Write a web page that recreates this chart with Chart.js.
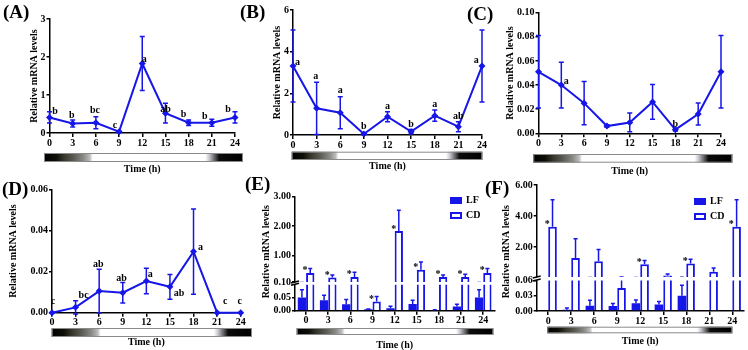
<!DOCTYPE html>
<html>
<head>
<meta charset="utf-8">
<script src="https://cdn.jsdelivr.net/npm/chart.js@4.4.1/dist/chart.umd.min.js"></script>
<style>
body{margin:0;background:#fff;width:748px;height:350px;overflow:hidden;position:relative}
canvas{position:absolute}
.tag{position:absolute;font:bold 19px 'Liberation Serif',serif;line-height:19px;color:#000}
</style>
</head>
<body>
<canvas id="cA"></canvas><canvas id="cB"></canvas><canvas id="cC"></canvas><canvas id="cD"></canvas>
<canvas id="cEhi"></canvas><canvas id="cElo"></canvas><canvas id="cFhi"></canvas><canvas id="cFlo"></canvas>
<div class="tag" style="left:3px;top:2px">(A)</div>
<div class="tag" style="left:240px;top:2px">(B)</div>
<div class="tag" style="left:467px;top:4px">(C)</div>
<div class="tag" style="left:2px;top:179px">(D)</div>
<div class="tag" style="left:245px;top:174px">(E)</div>
<div class="tag" style="left:485px;top:178px">(F)</div>
<script>
// sampling times (h)
const hours = [0,3,6,9,12,15,18,21,24];
const hourLabels = ['0','3','6','9','12','15','18','21','24'];

// (A)
const aMean = [0.41,0.25,0.27,0.035,1.83,0.52,0.27,0.27,0.41];
const aErr  = [0.15,0.09,0.16,0.02,0.71,0.26,0.07,0.09,0.15];
const aSig  = ['b','b','bc','c','a','ab','b','b','b'];
const aTicks = ['0','1','2','3'];
// (B)
const bMean = [3.31,1.28,1.07,0.045,0.88,0.16,0.93,0.4,3.31];
const bErr  = [1.73,1.25,0.77,0.022,0.24,0.1,0.27,0.24,1.73];
const bSig  = ['a','a','a','b','a','b','a','ab','a'];
const bTicks = ['0','2','4','6'];
// (C)
const cMean = [0.051,0.040,0.025,0.006,0.009,0.026,0.003,0.016,0.051];
const cErr  = [0.030,0.019,0.018,0.001,0.0078,0.0144,0.001,0.0092,0.030];
const cSig  = ['','a','','','','','b','',''];
const cTicks = ['0.00','0.02','0.04','0.06','0.08','0.10'];
// (D)
const dMean = [0,0.0026,0.0105,0.0097,0.0154,0.0126,0.0297,0,0];
const dErr  = [0,0.0032,0.0106,0.005,0.0062,0.006,0.0207,0,0];
const dSig  = ['c','bc','ab','ab','a','ab','a','c','c'];
const dTicks = ['0.00','0.02','0.04','0.06'];
// (E) LF = gene of (C), CD = gene of (A)
const eLF = cMean, eLFErr = cErr, eCD = aMean, eCDErr = aErr;
const eStar = [1,1,1,1,1,1,1,1,1];
const eTicksLo = ['0.00','0.05'];
const eTicksHi = ['0.10','1.00','2.00','3.00'];
// (F) LF = gene of (D), CD = gene of (B)
const fLF = dMean, fLFErr = dErr, fCD = bMean, fCDErr = bErr;
const fStar = [1,0,0,0,1,0,1,0,1];
const fTicksLo = ['0.00','0.03','0.06'];
const fTicksHi = ['2.00','4.00','6.00'];

const BLUE = 'rgb(22,22,232)';
const FAM = "'Liberation Serif','Times New Roman',serif";
const FONT = {family: FAM, size: 10, weight: 'bold'};
Chart.defaults.font.family = FAM;
Chart.defaults.color = '#000';

const decor = {
  id: 'decor',
  afterDatasetsDraw(chart, args, o){
    const ctx = chart.ctx, a = chart.chartArea, ys = chart.scales.y;
    const val = d => (d !== null && typeof d === 'object') ? d.y : d;
    ctx.save();
    if(o.clip){ ctx.beginPath(); ctx.rect(a.left, a.top, a.right-a.left, a.bottom-a.top); ctx.clip(); }
    ctx.strokeStyle = BLUE; ctx.lineWidth = 1.5;
    (o.err||[]).forEach((errs, i) => {
      const data = chart.data.datasets[i].data;
      chart.getDatasetMeta(i).data.forEach((el, j) => {
        const v = val(data[j]), e = errs[j];
        if(!e) return;
        const hi = ys.getPixelForValue(v+e);
        const lo = ys.getPixelForValue(o.upOnly ? v : v-e);
        ctx.beginPath();
        ctx.moveTo(el.x, lo); ctx.lineTo(el.x, hi);
        ctx.moveTo(el.x-o.cap, hi); ctx.lineTo(el.x+o.cap, hi);
        if(!o.upOnly){ ctx.moveTo(el.x-o.cap, lo); ctx.lineTo(el.x+o.cap, lo); }
        ctx.stroke();
      });
    });
    ctx.restore();

    ctx.save();
    ctx.fillStyle = '#000';
    ctx.font = 'bold 10px ' + FAM;
    if(o.stars){
      ctx.textAlign = 'center'; ctx.textBaseline = 'alphabetic';
      const data = chart.data.datasets[1].data;
      chart.getDatasetMeta(1).data.forEach((el, j) => {
        if(o.stars[j] && data[j] >= ys.min && data[j] <= ys.max)
          ctx.fillText('*', el.x - el.width/2 - 1, el.y + 0.5);
      });
    }
    ctx.textAlign = 'center'; ctx.textBaseline = 'middle';
    if(o.sig){
      chart.getDatasetMeta(0).data.forEach((el, j) => {
        const t = o.sig.text[j];
        if(t) ctx.fillText(t, el.x + o.sig.off[j][0], el.y + o.sig.off[j][1]);
      });
    }
    if(o.band){
      const [x0o, x1o, y0o, y1o] = o.band;
      const x0 = a.left + x0o, x1 = a.right + x1o;
      const g = ctx.createLinearGradient(x0, 0, x1, 0);
      [[0,'#000'],[0.06,'#0e0e08'],[0.1,'#36362c'],[0.15,'#5c5c55'],[0.2,'#8c8c88'],[0.23,'#bcbcbc'],
       [0.245,'#fff'],[0.81,'#fff'],[0.83,'#c8c8d2'],[0.855,'#6c6c6c'],[0.88,'#0c0c0c'],[1,'#000']]
        .forEach(s => g.addColorStop(s[0], s[1]));
      ctx.fillStyle = g;
      ctx.fillRect(x0, a.bottom + y0o, x1 - x0, y1o - y0o);
      ctx.strokeStyle = '#8a8a8a'; ctx.lineWidth = 1;
      ctx.strokeRect(x0 + 0.5, a.bottom + y0o + 0.5, x1 - x0 - 1, y1o - y0o - 1);
      ctx.fillStyle = '#000';
    }
    if(o.brk){
      ctx.strokeStyle = '#000'; ctx.lineWidth = 1.5;
      [a.top - 0.5, a.top - o.brk + 0.5].forEach(yy => {
        ctx.beginPath(); ctx.moveTo(a.left-4, yy+1); ctx.lineTo(a.left+4, yy-1); ctx.stroke();
      });
    }
    if(o.legend){
      chart.data.datasets.forEach((ds, i) => {
        const bx = a.right + o.legend[0], by = a.top + o.legend[1] + i*15;
        ctx.fillStyle = ds.borderColor; ctx.fillRect(bx, by, 12, 7);
        if(ds.backgroundColor === '#fff'){ ctx.fillStyle = '#fff'; ctx.fillRect(bx+2, by+2, 8, 3); }
        ctx.fillStyle = '#000'; ctx.textAlign = 'left';
        ctx.fillText(ds.label, bx + 16, by + 3.5);
      });
    }
    if(o.ytitle){
      ctx.translate(a.left - o.ytitle[1], a.top + o.ytitle[2]);
      ctx.rotate(-Math.PI/2);
      ctx.textAlign = 'center';
      ctx.fillText(o.ytitle[0], 0, 0);
    }
    ctx.restore();
  }
};

function frame(id, r, b){
  const cv = document.getElementById(id);
  const left = Math.round(r.l - b.yw), top = Math.round(r.t - b.pt);
  const w = Math.round(r.r + b.pr - left), h = Math.round(r.b + b.xh + b.pb - top);
  cv.width = w; cv.height = h;
  cv.style.left = left + 'px'; cv.style.top = top + 'px';
  return {cv, yw: r.l - left, pt: r.t - top, pr: w - (r.r - left), xh: h - b.pb - (r.b - top), pb: b.pb};
}

function xAxis(xh, extra){
  return Object.assign({
    ticks: {font: FONT, color: '#000', padding: 0, maxRotation: 0, autoSkip: false},
    grid: {drawOnChartArea: false, tickLength: 4, color: '#000', lineWidth: 1.5, offset: false},
    border: {color: '#000', width: 1.5},
    title: {display: true, text: 'Time (h)', font: FONT, color: '#000', padding: {top: 0, bottom: 4}},
    afterFit: s => { s.height = xh; }
  }, extra);
}

function yAxis(yw, labels, min, max, title){
  return {
    min, max,
    afterBuildTicks: s => { s.ticks = labels.map(t => ({value: parseFloat(t)})); },
    ticks: {font: FONT, color: '#000', padding: 1, callback: (v, i) => labels[i]},
    grid: {drawOnChartArea: false, tickLength: 3, color: '#000', lineWidth: 1.5},
    border: {color: '#000', width: 1.5},
    title: {display: title, text: 'Relative mRNA levels', font: FONT, color: '#000', padding: {top: 4, bottom: 4}},
    afterFit: s => { s.width = yw; }
  };
}

const base = {responsive: false, animation: false, devicePixelRatio: 1, events: []};

function lineChart(id, r, b, mean, err, ticks, yMax, sigText, sigOff, band){
  const f = frame(id, r, b);
  return new Chart(f.cv, {
    type: 'line',
    data: {datasets: [{
      data: hours.map((h, i) => ({x: h, y: mean[i]})),
      borderColor: BLUE, backgroundColor: BLUE, borderWidth: 2,
      pointStyle: 'rectRot', pointRadius: 3.5, pointBorderWidth: 0,
      tension: 0, clip: false
    }]},
    options: Object.assign({}, base, {
      layout: {padding: {left: 0, top: f.pt, right: f.pr, bottom: 0}},
      plugins: {legend: {display: false}, tooltip: {enabled: false},
        decor: {err: [err], cap: 2.5, sig: {text: sigText, off: sigOff}, band}},
      scales: {
        x: xAxis(f.xh, {type: 'linear', min: 0, max: 24,
          afterBuildTicks: s => { s.ticks = hours.map(v => ({value: v})); }}),
        y: yAxis(f.yw, ticks, 0, yMax, true)
      }
    }),
    plugins: [decor]
  });
}

function barDatasets(lf, cd){
  return [
    {label: 'LF', data: lf, backgroundColor: BLUE, borderColor: BLUE, borderWidth: 0,
     barPercentage: 1, categoryPercentage: 0.75, clip: 0},
    {label: 'CD', data: cd, backgroundColor: '#fff', borderColor: BLUE, borderWidth: 2,
     barPercentage: 1, categoryPercentage: 0.75, clip: 0}
  ];
}

function splitBars(p){
  const hi = frame(p.idHi, p.rHi, p.bHi);
  const lo = frame(p.idLo, p.rLo, p.bLo);
  const dec = {err: [p.lfErr, p.cdErr], upOnly: true, cap: 2, clip: true, stars: p.stars};
  new Chart(hi.cv, {
    type: 'bar',
    data: {labels: hourLabels, datasets: barDatasets(p.lf, p.cd)},
    options: Object.assign({}, base, {
      layout: {padding: {left: 0, top: hi.pt, right: hi.pr, bottom: hi.pb}},
      plugins: {legend: {display: false}, tooltip: {enabled: false},
        decor: Object.assign({legend: p.legend, ytitle: ['Relative mRNA levels', p.titleDx, p.titleCy]}, dec)},
      scales: {
        x: {display: false, offset: true},
        y: yAxis(hi.yw, p.ticksHi, p.split, p.max, false)
      }
    }),
    plugins: [decor]
  });
  new Chart(lo.cv, {
    type: 'bar',
    data: {labels: hourLabels, datasets: barDatasets(p.lf, p.cd)},
    options: Object.assign({}, base, {
      layout: {padding: {left: 0, top: lo.pt, right: lo.pr, bottom: 0}},
      plugins: {legend: {display: false}, tooltip: {enabled: false},
        decor: Object.assign({band: p.band, brk: p.rLo.t - p.rHi.b}, dec)},
      scales: {
        x: xAxis(lo.xh, {offset: true}),
        y: yAxis(lo.yw, p.ticksLo, 0, p.split, false)
      }
    }),
    plugins: [decor]
  });
}

lineChart('cA', {l: 49.5, t: 19, r: 235, b: 133}, {yw: 25.5, xh: 46, pt: 10, pr: 12, pb: 0},
  aMean, aErr, aTicks, 3, aSig,
  [[5.5,-6],[-1,-8.5],[-1,-12],[-4,-6],[2,-4.5],[0,-4],[-5,-8],[-7,-6],[-7,-8]],
  [-5.5, 8, 20, 29]);

lineChart('cB', {l: 293, t: 10, r: 482, b: 135}, {yw: 26.3, xh: 40.7, pt: 10, pr: 12, pb: 0},
  bMean, bErr, bTicks, 6, bSig,
  [[4.4,-3.6],[-1,-31.8],[0,-22],[0,-7.3],[0,-10.2],[0,-7.6],[0,-11.6],[0,-10],[-5.7,-5.3]],
  [-1.3, 0.3, 16.7, 25]);

lineChart('cC', {l: 538.5, t: 12.7, r: 721, b: 133.3}, {yw: 38.5, xh: 47.4, pt: 10, pr: 14, pb: 0},
  cMean, cErr, cTicks, 0.1, cSig,
  [[0,0],[5,-4],[0,0],[0,0],[0,0],[0,0],[0,-5],[0,0],[0,0]],
  [-5.2, 11.3, 20.7, 29.4]);

lineChart('cD', {l: 52, t: 189.3, r: 240.7, b: 312.7}, {yw: 48.7, xh: 39, pt: 10, pr: 14, pb: 0},
  dMean, dErr, dTicks, 0.06, dSig,
  [[1,-11.7],[8,-11.6],[-1,-27],[-1.3,-14],[4,-6.5],[9,7],[7,-4],[8,-11],[-1,-11]],
  [-0.3, 11.3, 15.3, 24.3]);

splitBars({
  idHi: 'cEhi', idLo: 'cElo',
  rHi: {l: 295, t: 196.7, r: 494.3, b: 281.5}, bHi: {yw: 38.3, xh: 0, pt: 10, pr: 8, pb: 34},
  rLo: {l: 295, t: 284.7, r: 494.3, b: 310.7}, bLo: {yw: 38.3, xh: 44.3, pt: 10, pr: 8, pb: 0},
  lf: eLF, lfErr: eLFErr, cd: eCD, cdErr: eCDErr, stars: eStar,
  ticksHi: eTicksHi, ticksLo: eTicksLo, split: 0.1, max: 3,
  legend: [-44.3, 0.3], titleDx: 28.3, titleCy: 55, band: [1.7, -1, 17.3, 24.3]
});

splitBars({
  idHi: 'cFhi', idLo: 'cFlo',
  rHi: {l: 536.7, t: 185, r: 743.8, b: 276.6}, bHi: {yw: 40, xh: 0, pt: 10, pr: 4, pb: 35},
  rLo: {l: 536.7, t: 280.4, r: 743.8, b: 311}, bLo: {yw: 40, xh: 39.7, pt: 10, pr: 4, pb: 0},
  lf: fLF, lfErr: fLFErr, cd: fCD, cdErr: fCDErr, stars: fStar,
  ticksHi: fTicksHi, ticksLo: fTicksLo, split: 0.06, max: 6,
  legend: [-49.8, 13], titleDx: 30, titleCy: 66.7, band: [10.6, -11.5, 15.7, 22.3]
});
</script>
</body>
</html>
